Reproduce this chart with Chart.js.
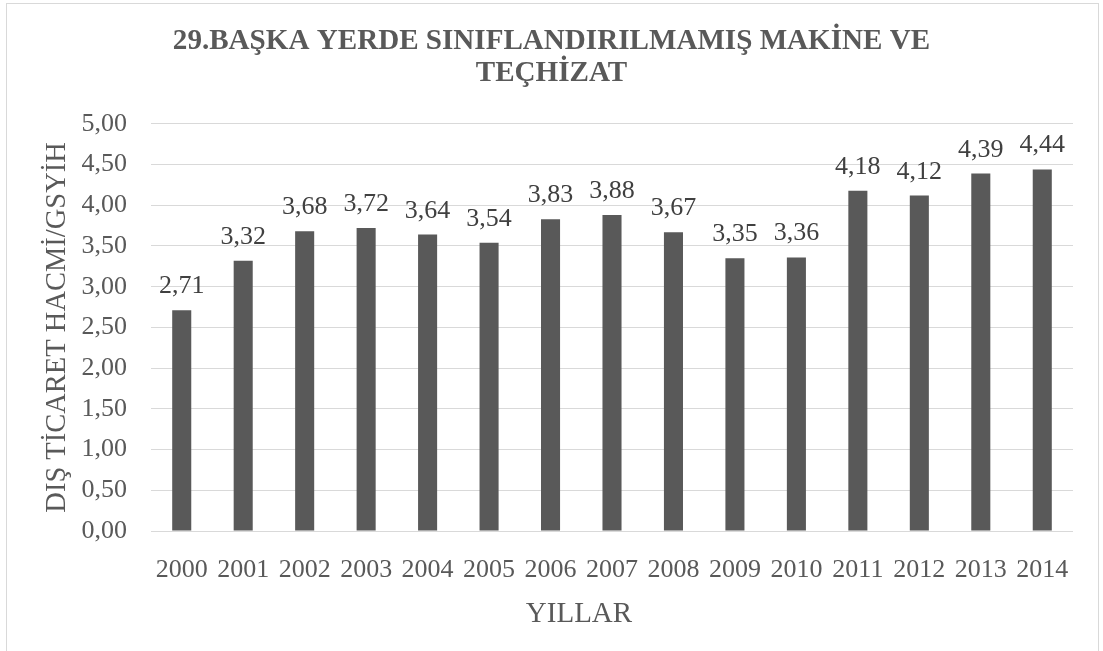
<!DOCTYPE html>
<html>
<head>
<meta charset="utf-8">
<script src="https://cdn.jsdelivr.net/npm/chart.js@4.4.0/dist/chart.umd.min.js"></script>
<style>
  html, body { margin: 0; padding: 0; background: #fff; overflow: hidden; }
  #wrap { position: relative; width: 1103px; height: 651px; }
  #frame { position: absolute; left: 6px; top: 3px; width: 1093px; height: 700px; border: 1px solid #d9d9d9; border-bottom: none; box-sizing: border-box; }
  canvas { position: absolute; left: 0; top: 0; }
</style>
</head>
<body>
<div id="wrap">
  <div id="frame"></div>
  <canvas id="c" width="1103" height="651"></canvas>
</div>
<script>
const titleLines = ['29.BAŞKA YERDE SINIFLANDIRILMAMIŞ MAKİNE VE', 'TEÇHİZAT'];
const years = ['2000','2001','2002','2003','2004','2005','2006','2007','2008','2009','2010','2011','2012','2013','2014'];
const values = [2.71, 3.32, 3.68, 3.72, 3.64, 3.54, 3.83, 3.88, 3.67, 3.35, 3.36, 4.18, 4.12, 4.39, 4.44];
const yAxisTitle = 'DIŞ TİCARET HACMİ/GSYİH';
const xAxisTitle = 'YILLAR';

const FONT = "'Liberation Serif', 'Times New Roman', serif";
const fmt = v => Number(v).toFixed(2).replace('.', ',');

const labelPlugin = {
  id: 'barLabels',
  afterDatasetsDraw(chart) {
    const ctx = chart.ctx;
    const meta = chart.getDatasetMeta(0);
    ctx.save();
    ctx.font = '26px ' + FONT;
    ctx.fillStyle = '#404040';
    ctx.textAlign = 'center';
    ctx.textBaseline = 'alphabetic';
    meta.data.forEach((bar, i) => {
      ctx.fillText(fmt(values[i]), bar.x, bar.y - 17);
    });
    ctx.restore();
  }
};

const xTitlePlugin = {
  id: 'xTitle',
  afterDraw(chart) {
    const ctx = chart.ctx;
    const a = chart.chartArea;
    ctx.save();
    ctx.font = '29px ' + FONT;
    ctx.fillStyle = '#595959';
    ctx.textAlign = 'center';
    ctx.textBaseline = 'alphabetic';
    ctx.fillText(xAxisTitle, (a.left + a.right) / 2 - 33, 622);
    ctx.restore();
  }
};

new Chart(document.getElementById('c'), {
  type: 'bar',
  data: {
    labels: years,
    datasets: [{
      data: values,
      backgroundColor: '#595959',
      borderWidth: 0,
      categoryPercentage: 1,
      barPercentage: 0.31
    }]
  },
  plugins: [labelPlugin, xTitlePlugin],
  options: {
    responsive: false,
    animation: false,
    devicePixelRatio: 1,
    layout: { padding: { left: 0, right: 0, top: 0, bottom: 0 } },
    plugins: {
      legend: { display: false },
      tooltip: { enabled: false },
      title: {
        display: true,
        text: titleLines,
        color: '#595959',
        font: { family: FONT, size: 29.1, weight: 'bold', lineHeight: 1.08 },
        padding: { top: 26, bottom: 35 }
      }
    },
    scales: {
      x: {
        grid: { display: false },
        border: { display: false },
        ticks: {
          color: '#595959',
          font: { family: FONT, size: 26 },
          padding: 16,
          maxRotation: 0,
          autoSkip: false
        },
        afterFit(scale) { scale.height = 120; }
      },
      y: {
        min: 0,
        max: 5,
        border: { display: false },
        grid: { color: '#d9d9d9', lineWidth: 1, drawTicks: false },
        ticks: {
          stepSize: 0.5,
          color: '#595959',
          font: { family: FONT, size: 26 },
          padding: 24,
          callback: v => fmt(v)
        },
        title: {
          display: true,
          text: yAxisTitle,
          color: '#595959',
          font: { family: FONT, size: 28.5, lineHeight: 1.2 },
          padding: { top: 40, bottom: 0 }
        },
        afterFit(scale) { scale.width = 151; }
      },
      yRight: {
        position: 'right',
        min: 0,
        max: 5,
        grid: { display: false },
        border: { display: false },
        ticks: { display: false },
        afterFit(scale) { scale.width = 30; }
      }
    }
  }
});
</script>
</body>
</html>
